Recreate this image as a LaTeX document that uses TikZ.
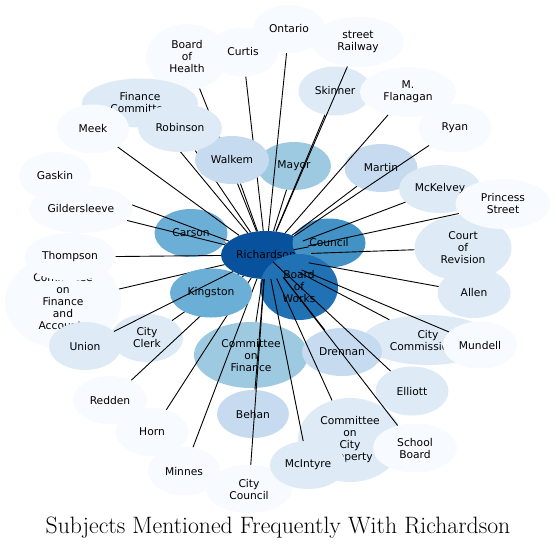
\documentclass[tikz,border=0pt]{standalone}
\usepackage{fontspec}
\setsansfont{DejaVu Sans}
\usepackage{tikz}
\usetikzlibrary{shapes.geometric}
\definecolor{blues0}{HTML}{F7FBFF}
\definecolor{blues1}{HTML}{DEEBF7}
\definecolor{blues2}{HTML}{C6DBEF}
\definecolor{blues3}{HTML}{9ECAE1}
\definecolor{blues4}{HTML}{6BAED6}
\definecolor{blues5}{HTML}{4292C6}
\definecolor{blues6}{HTML}{2171B5}
\definecolor{blues7}{HTML}{08519C}
\pgfdeclarelayer{front}
\pgfdeclarelayer{over}
\pgfsetlayers{main,front,over}

\begin{document}
\begin{tikzpicture}[x=1pt,y=-1pt,font=\fontsize{10.7}{12}\selectfont\sffamily]
  \tikzstyle{ent}=[ellipse, draw=none, inner sep=0pt, align=center, text=black]
  \tikzstyle{link}=[draw=black, line width=0.9pt]
  \tikzstyle{title}=[font=\rmfamily\fontsize{23.7}{28}\selectfont, align=center]

  \path[use as bounding box] (0,0) rectangle (556,550);

  % centre and the darker ones
  \node[ent, fill=blues7, minimum width=90pt, minimum height=48pt] (rich) at (266,255) {Richardson};
  \node[ent, fill=blues5, minimum width=73pt, minimum height=49pt] (council) at (329,243) {Council};
  \node[ent, fill=blues6, minimum width=78pt, minimum height=66pt] (works) at (299,287) {Board\\of\\Works};
  \node[ent, fill=blues4, minimum width=73pt, minimum height=48pt] (carson) at (191,233) {Carson};
  \node[ent, fill=blues3, minimum width=74pt, minimum height=48pt] (mayor) at (294,166) {Mayor};
  \node[ent, fill=blues3, minimum width=114pt, minimum height=66pt] (cofin) at (251,355) {Committee\\on\\Finance};
  \node[ent, fill=blues2, minimum width=73pt, minimum height=48pt] (martin) at (381,168) {Martin};
  \node[ent, fill=blues2, minimum width=72pt, minimum height=48pt] (behan) at (253,414) {Behan};
  \node[ent, fill=blues1, minimum width=130pt, minimum height=50pt] (citycom) at (428,340) {City\\Commissioner};
  \node[ent, fill=blues2, minimum width=80pt, minimum height=48pt] (drennan) at (342,352) {Drennan};

  % top
  \node[ent, fill=blues0, minimum width=82pt, minimum height=66pt] (health) at (187,57) {Board\\of\\Health};
  \node[ent, fill=blues0, minimum width=70pt, minimum height=49pt] (curtis) at (243,52) {Curtis};
  \node[ent, fill=blues0, minimum width=72pt, minimum height=48pt] (ontario) at (289,29) {Ontario};
  \node[ent, fill=blues0, minimum width=92pt, minimum height=50pt] (railway) at (358,42) {street\\Railway};
  \node[ent, fill=blues1, minimum width=73pt, minimum height=49pt] (skinner) at (335,91) {Skinner};
  \node[ent, fill=blues0, minimum width=96pt, minimum height=50pt] (flanagan) at (408,92) {M.\\Flanagan};
  \node[ent, fill=blues0, minimum width=73pt, minimum height=49pt] (ryan) at (455,128) {Ryan};
  \node[ent, fill=blues1, minimum width=116pt, minimum height=49pt] (fincomm) at (140,103) {Finance\\Committee};
  \node[ent, fill=blues0, minimum width=72pt, minimum height=49pt] (meek) at (93,129) {Meek};

  % right
  \node[ent, fill=blues1, minimum width=82pt, minimum height=48pt] (mckelvey) at (440,189) {McKelvey};
  \node[ent, fill=blues1, minimum width=97pt, minimum height=66pt] (court) at (463,248) {Court\\of\\Revision};
  \node[ent, fill=blues0, minimum width=95pt, minimum height=50pt] (princess) at (503,204) {Princess\\Street};
  \node[ent, fill=blues1, minimum width=73pt, minimum height=50pt] (allen) at (474,293) {Allen};
  \node[ent, fill=blues0, minimum width=74pt, minimum height=47pt] (mundell) at (480,345) {Mundell};
  \node[ent, fill=blues1, minimum width=73pt, minimum height=49pt] (elliott) at (412,391) {Elliott};

  % left
  \node[ent, fill=blues0, minimum width=72pt, minimum height=48pt] (gaskin) at (55,176) {Gaskin};
  \node[ent, fill=blues0, minimum width=116pt, minimum height=94pt] (cofa) at (63,302) {Committee\\on\\Finance\\and\\Accounts};
  \node[ent, fill=blues0, minimum width=91pt, minimum height=48pt] (thompson) at (70,257) {Thompson};
  \node[ent, fill=blues1, minimum width=72pt, minimum height=48pt] (clerk) at (147,338) {City\\Clerk};
  \node[ent, fill=blues1, minimum width=72pt, minimum height=48pt] (union) at (85,346) {Union};

  % bottom
  \node[ent, fill=blues0, minimum width=74pt, minimum height=48pt] (redden) at (110,400) {Redden};
  \node[ent, fill=blues0, minimum width=72pt, minimum height=48pt] (horn) at (152,432) {Horn};
  \node[ent, fill=blues0, minimum width=72pt, minimum height=49pt] (minnes) at (184,471) {Minnes};
  \node[ent, fill=blues0, minimum width=86pt, minimum height=48pt] (citycoun) at (249,489) {City\\Council};
  \node[ent, fill=blues1, minimum width=104pt, minimum height=84pt] (property) at (350,440) {Committee\\on\\City\\Property};
  \node[ent, fill=blues1, minimum width=76pt, minimum height=48pt] (mcintyre) at (308,465) {McIntyre};
  \node[ent, fill=blues0, minimum width=84pt, minimum height=49pt] (school) at (415,448) {School\\Board};

  % these sit over the lines
  \begin{pgfonlayer}{front}
    \node[ent, fill=blues2, minimum width=74pt, minimum height=48pt] (walkem) at (232,160) {Walkem};
    \node[ent, fill=blues1, minimum width=84pt, minimum height=48pt] (robinson) at (180,128) {Robinson};
    \node[ent, fill=blues0, minimum width=104pt, minimum height=48pt] (gilder) at (81,209) {Gildersleeve};
    \node[ent, fill=blues4, minimum width=82pt, minimum height=49pt] (kingston) at (211,293) {Kingston};
  \end{pgfonlayer}

  \foreach \other in {council,works,carson,mayor,cofin,martin,behan,citycom,drennan,
      health,curtis,ontario,railway,skinner,flanagan,ryan,fincomm,meek,
      mckelvey,court,princess,allen,mundell,elliott,
      gaskin,cofa,thompson,clerk,redden,horn,minnes,citycoun,property,mcintyre,school,
      walkem,robinson,gilder,kingston}
    \draw[link] (rich) -- (\other);
  \begin{pgfonlayer}{over}
    \draw[link] (rich) -- (union);
  \end{pgfonlayer}

  \node[title] (caption) at (278,528) {Subjects Mentioned Frequently With Richardson};
\end{tikzpicture}
\end{document}
